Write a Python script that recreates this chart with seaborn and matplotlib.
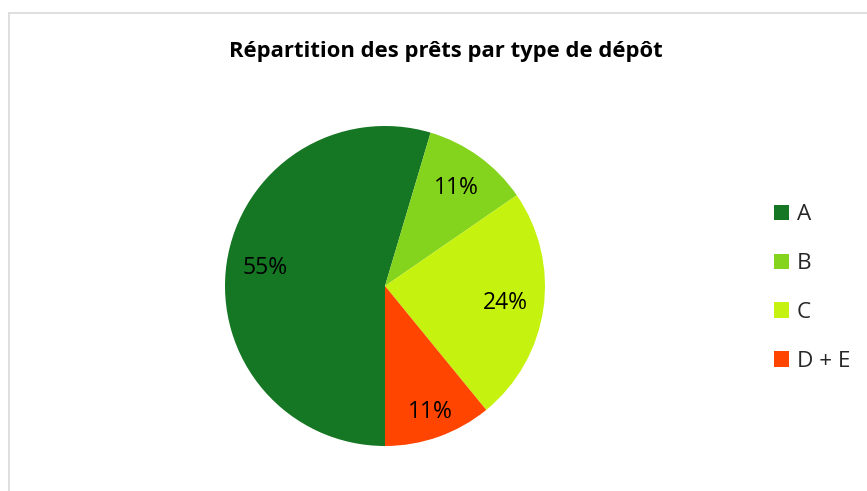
import matplotlib
matplotlib.use("Agg")
import matplotlib.pyplot as plt
import seaborn as sns
from matplotlib.patches import Patch
from matplotlib.lines import Line2D

# données
categories = ["A", "B", "C", "D + E"]
parts = [54.6, 10.8, 23.7, 10.9]
couleurs = ["#157623", "#84D31C", "#C5F20E", "#FF4500"]

sns.set_theme(style="white")
plt.rcParams["font.family"] = ["Open Sans", "DejaVu Sans"]

fig = plt.figure(figsize=(8.67, 4.91), dpi=100)

# pie area: centre (385, 286), rayon 160 px
ax = fig.add_axes([225 / 867, 45 / 491, 320 / 867, 320 / 491])
wedges, texts, autotexts = ax.pie(
    parts,
    colors=sns.color_palette(couleurs),
    startangle=-90,
    counterclock=False,
    autopct="%.0f%%",
    pctdistance=0.76,
    radius=1,
    wedgeprops={"linewidth": 0, "edgecolor": "none"},
    textprops={"fontsize": 16.5, "color": "black"},
)
# étiquette D + E un peu plus vers l'extérieur (comme Excel)
x, y = autotexts[3].get_position()
autotexts[3].set_position((x * 1.1, y * 1.1))

ax.set_xlim(-1, 1)
ax.set_ylim(-1, 1)
ax.set_aspect("equal")
ax.axis("off")

fig.text(446 / 867, 1 - 51 / 491, "Répartition des prêts par type de dépôt",
         ha="center", va="center", fontsize=15.8, fontweight="bold", color="black")

handles = [Patch(facecolor=c, edgecolor="none") for c in couleurs]
fig.legend(handles, categories, loc="center left",
           bbox_to_anchor=(774 / 867, 1 - 288 / 491),
           frameon=False, fontsize=16.2, handlelength=0.67, handleheight=0.67,
           handletextpad=0.35, labelspacing=1.24, borderpad=0, borderaxespad=0)

# bordure de la zone de graphique
fig.add_artist(Line2D([8.5 / 867, 1], [1 - 12.5 / 491] * 2, color="#D9D9D9", lw=1.2))
fig.add_artist(Line2D([8.5 / 867] * 2, [0, 1 - 12.5 / 491], color="#D9D9D9", lw=1.2))

fig.savefig("out.png", dpi=100)
